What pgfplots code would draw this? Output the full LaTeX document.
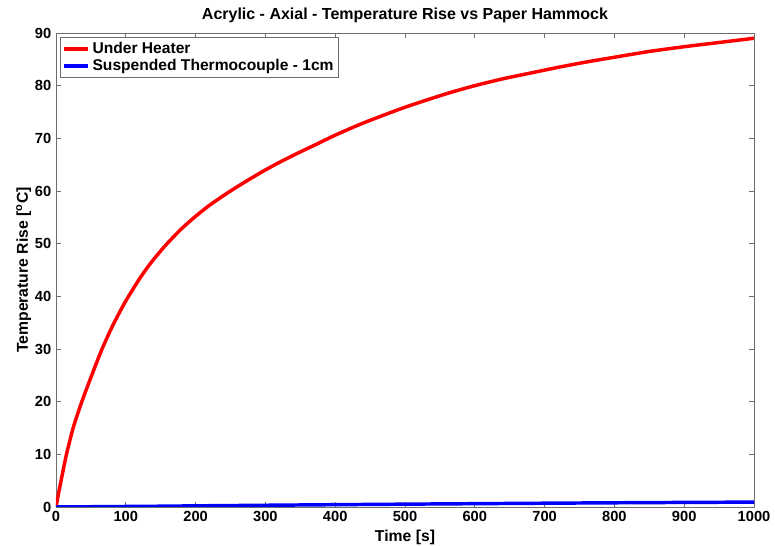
\documentclass[border=0pt]{standalone}
\usepackage{pgfplots}
\pgfplotsset{compat=1.18}
\usepackage{fontspec}
\setmainfont{Liberation Sans}

\definecolor{axgray}{RGB}{110,110,110}

\begin{document}
\begin{tikzpicture}
\useasboundingbox (-42pt,-29.25pt) rectangle (539.25pt,380.25pt);
\begin{axis}[
  scale only axis,
  width=523.5pt, height=355.5pt,
  xmin=0, xmax=1000, ymin=0, ymax=90,
  xtick={0,100,...,1000},
  ytick={0,10,...,90},
  tick align=inside,
  major tick length=4pt,
  axis line style={axgray, line width=0.6pt},
  every tick/.style={axgray, line width=0.6pt},
  tick label style={font=\bfseries\fontsize{11}{13}\selectfont, black},
  /pgf/number format/assume math mode=true,
  /pgf/number format/1000 sep={},
  scaled ticks=false,
  title={\bfseries Acrylic - Axial - Temperature Rise vs Paper Hammock},
  title style={font=\fontsize{12}{14}\selectfont, yshift=-2pt},
  xlabel={\bfseries Time [s]},
  ylabel={\bfseries Temperature Rise [\textsuperscript{o}C]},
  label style={font=\fontsize{11.8}{14}\selectfont},
  xlabel style={yshift=1pt},
  ylabel style={yshift=-4pt},
  legend style={at={(0.006,0.991)}, anchor=north west, draw=axgray,
    font=\bfseries\fontsize{11.7}{14}\selectfont, inner sep=1.5pt,
    row sep=-1pt, cells={anchor=west}},
  legend image code/.code={\draw[#1, line width=2.6pt] (0pt,0pt) -- (18pt,0pt);},
]
\addplot[red, line width=2.6pt, smooth, tension=0.4] coordinates {
  (0,0) (5,3.5) (10,6.8) (15,10) (25,15.2) (37,20) (50,24.6) (65,29.7)
  (80,34.1) (94,37.7) (103,39.8) (120,43.4) (135,46.2) (155,49.4)
  (178,52.6) (200,55.2) (221,57.4) (250,60.0) (278,62.3) (300,64.0)
  (321,65.5) (345,67.1) (375,69.0) (400,70.6) (440,72.9) (500,75.9)
  (560,78.5) (600,80.0) (640,81.3) (680,82.4) (720,83.5) (760,84.5)
  (800,85.4) (850,86.5) (900,87.4) (950,88.2) (1000,89.0)
};
\addlegendentry{Under Heater}
\addplot[blue, line width=2.6pt] coordinates {
  (0,0) (50,0.05) (100,0.1) (150,0.15) (200,0.22) (300,0.33) (400,0.44)
  (500,0.54) (600,0.63) (700,0.72) (800,0.8) (900,0.87) (1000,0.93)
};
\addlegendentry{Suspended Thermocouple - 1cm}
\end{axis}
\end{tikzpicture}
\end{document}
